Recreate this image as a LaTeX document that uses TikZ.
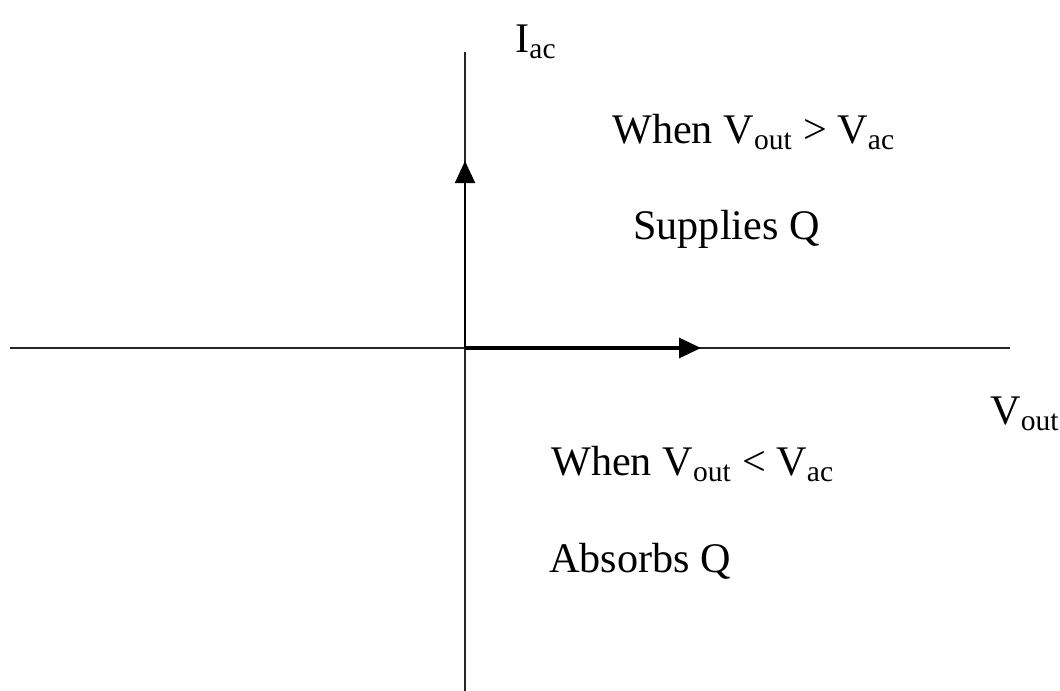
\documentclass[tikz,border=0pt]{standalone}
\usepackage{fontspec}
\setmainfont{Liberation Serif}
\usepackage{tikz}
\usetikzlibrary{arrows.meta}
\tikzset{
  qaxis/.style={line width=1.1pt, black!85},
  qarrow/.style={-{Triangle[length=4.4mm, width=4mm]}, line width=1.8pt, black},
  qlabel/.style={font=\fontsize{24}{28}\selectfont, anchor=base west, inner sep=0pt},
}

\begin{document}
\begin{tikzpicture}[x=0.02cm, y=-0.02cm]
  \useasboundingbox (0,0) rectangle (1060,690);
  \coordinate (o) at (465,348);
  \coordinate (xl) at (10,348);
  \coordinate (xr) at (1010,348);
  \coordinate (yt) at (465,52);
  \coordinate (yb) at (465,692);
  \coordinate (xtip) at (701,348);
  \coordinate (ytip) at (465,161);
  \draw[qaxis] (xl) -- (xr);
  \draw[qaxis] (yb) -- (yt);
  \draw[qarrow] (o) -- (xtip);
  \draw[qarrow, line width=1.1pt] (o) -- (ytip);
  \node[qlabel] (iac) at (515,52) {I\textsubscript{ac}};
  \node[qlabel] (vout) at (990,424) {V\textsubscript{out}};
  \node[qlabel] (gt) at (612,143) {When V\textsubscript{out} > V\textsubscript{ac}};
  \node[qlabel] (sup) at (633,239) {Supplies Q};
  \node[qlabel] (lt) at (551,475) {When V\textsubscript{out} < V\textsubscript{ac}};
  \node[qlabel] (abs) at (549,572) {Absorbs Q};
\end{tikzpicture}
\end{document}
